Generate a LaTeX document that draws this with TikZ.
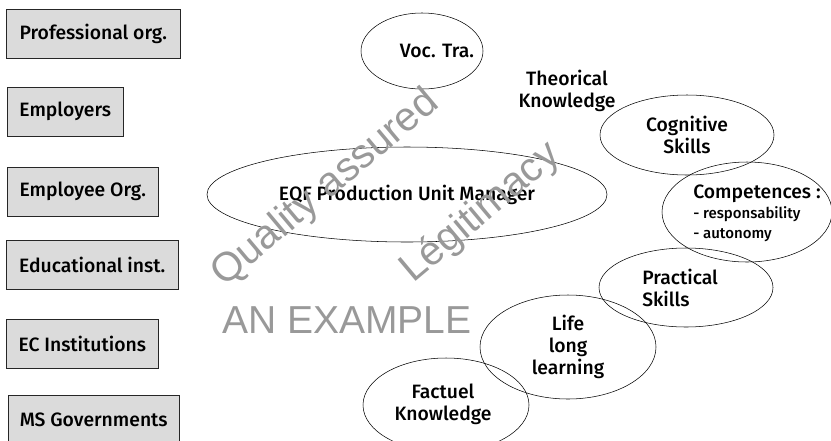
\documentclass[tikz,border=0pt]{standalone}
\usepackage{fontspec}
\setmainfont{Fira Sans Medium}
\newfontfamily\wmfamily{Liberation Sans}
\usetikzlibrary{shapes.geometric}
\tikzset{
  orgbox/.style={draw=black!85, fill=black!14, thin, anchor=west, inner sep=0pt,
    minimum height=36.75pt, font=\fontsize{14.5pt}{16.5pt}\selectfont},
  oval/.style={draw, ellipse, thin, inner sep=0pt, align=center,
    font=\fontsize{14.5pt}{16.5pt}\selectfont},
  lbl/.style={align=center, inner sep=0pt, font=\fontsize{14.5pt}{16.5pt}\selectfont},
  wmtext/.style={text=black!40, inner sep=0pt, anchor=base west,
    font=\wmfamily\fontsize{29.25pt}{30pt}\selectfont},
  wmdiag/.style={wmtext, rotate=40, font=\wmfamily\fontsize{30.5pt}{31pt}\selectfont}
}
\begin{document}
\begin{tikzpicture}[x=0.75pt,y=-0.75pt]
    \useasboundingbox (0,0) rectangle (831,440);
    % stakeholders on the left
    \foreach \nm/\xx/\yy/\bw/\txt in {prof/6/34/130.5pt/Professional org.,
        empl/7/111.5/87pt/Employers,
        emplee/7/191.5/113.25pt/Employee Org.,
        educ/6/264.5/129pt/Educational inst.,
        ec/6/343.5/114pt/EC Institutions,
        ms/8/420/128.25pt/MS Governments} {
        \node[orgbox, minimum width=\bw] (\nm) at (\xx,\yy) {\txt};
      }
    % the profile and its parts
    \node[oval, minimum width=91.5pt, minimum height=57pt] (voc) at (422,51) {};
    \node[lbl] (voctxt) at (437,51) {Voc. Tra.};
    \node[oval, minimum width=300pt, minimum height=71.25pt] (eqf) at (407,194.5)
      {EQF Production Unit Manager};
    \node[lbl] (theo) at (567,91) {Theorical\\Knowledge};
    \node[oval, minimum width=130.5pt, minimum height=60pt] (cog) at (687,135)
      {Cognitive\\Skills};
    \node[oval, minimum width=127.5pt, minimum height=75pt] (comp) at (747,212) {};
    \node[lbl, anchor=north west, align=left] (comptxt) at (693,185)
      {Competences :\\[-2pt]{\fontsize{11.25pt}{14.5pt}\selectfont - responsability}\\[-1.5pt]
       {\fontsize{11.25pt}{14.5pt}\selectfont - autonomy}};
    \node[oval, minimum width=130.5pt, minimum height=59.25pt] (prac) at (686,287.5) {};
    \node[lbl, anchor=west, align=left] (practxt) at (642,288) {Practical\\Skills};
    \node[oval, minimum width=132pt, minimum height=78pt] (life) at (568,347)
      {Life\\long\\learning};
    \node[oval, minimum width=124.5pt, minimum height=70.5pt] (fact) at (446,405) {};
    \node[lbl] (facttxt) at (443,404) {Factuel\\Knowledge};
    % watermarks
    \node[wmdiag] (wmq) at (224,288) {Quality assured};
    \node[wmdiag] (wml) at (413,284) {Légitimacy};
    \node[wmtext] (wma) at (222,333) {AN EXAMPLE};
  \end{tikzpicture}
\end{document}
